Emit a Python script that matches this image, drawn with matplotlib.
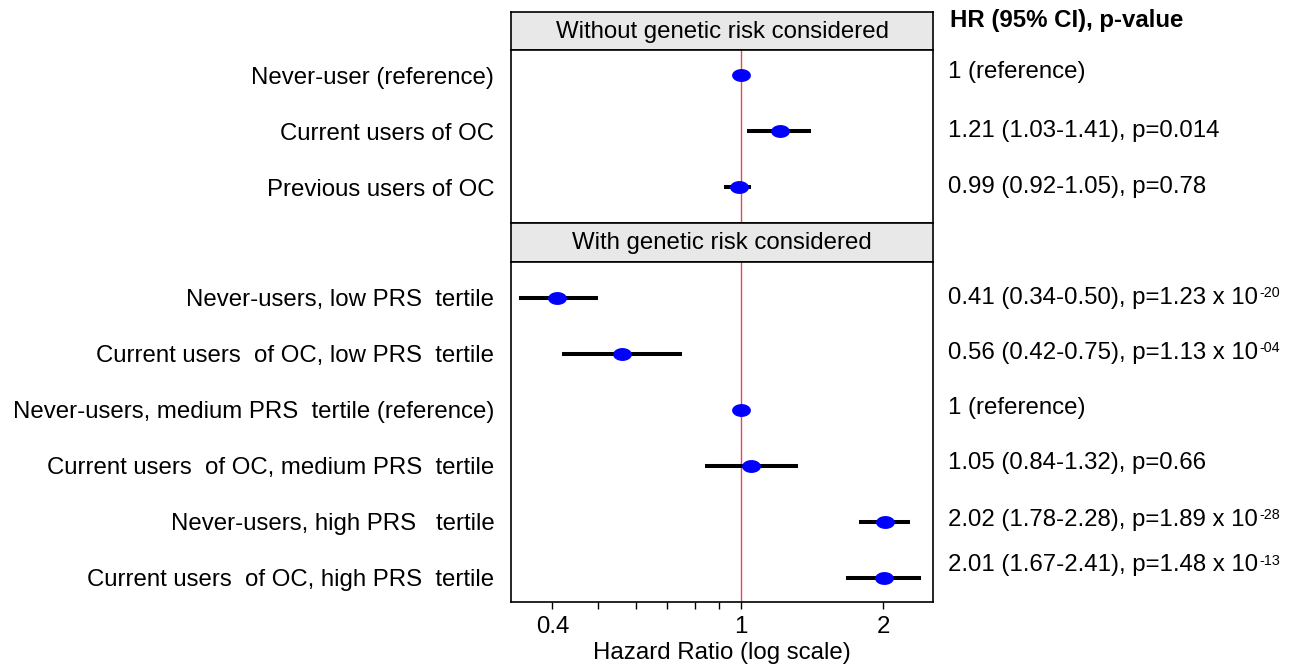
#!/usr/bin/env python3
# forest plot: OC use and hazard ratios, with/without genetic risk
import numpy as np
import matplotlib.pyplot as plt
from matplotlib.path import Path
from matplotlib.transforms import blended_transform_factory

plt.rcParams['font.family'] = ['Liberation Sans', 'DejaVu Sans']

########## DATOS ##########
titulo1 = "Without genetic risk considered"
grupos1 = ["Never-user (reference)", "Current users of OC", "Previous users of OC"]
hr1 = [1.0, 1.21, 0.99]
lo1 = [1.0, 1.03, 0.92]
hi1 = [1.0, 1.41, 1.05]
txt1 = ["1 (reference)", "1.21 (1.03-1.41), p=0.014", "0.99 (0.92-1.05), p=0.78"]
sup1 = ["", "", ""]

titulo2 = "With genetic risk considered"
grupos2 = ["Never-users, low PRS  tertile",
           "Current users  of OC, low PRS  tertile",
           "Never-users, medium PRS  tertile (reference)",
           "Current users  of OC, medium PRS  tertile",
           "Never-users, high PRS   tertile",
           "Current users  of OC, high PRS  tertile"]
hr2 = [0.41, 0.56, 1.0, 1.05, 2.02, 2.01]
lo2 = [0.34, 0.42, 1.0, 0.84, 1.78, 1.67]
hi2 = [0.50, 0.75, 1.0, 1.32, 2.28, 2.41]
txt2 = ["0.41 (0.34-0.50), p=1.23 x 10",
        "0.56 (0.42-0.75), p=1.13 x 10",
        "1 (reference)",
        "1.05 (0.84-1.32), p=0.66",
        "2.02 (1.78-2.28), p=1.89 x 10",
        "2.01 (1.67-2.41), p=1.48 x 10"]
sup2 = ["-20", "-04", "", "", "-28", "-13"]

xticks = [0.4, 0.5, 0.6, 0.7, 0.8, 0.9, 1, 2]
xticklabels = ["0.4", "", "", "", "", "", "1", "2"]

W, H = 1291, 666
fig = plt.figure(figsize=(W / 100, H / 100), dpi=100)

def caja(x0, y0, x1, y1):
    return [x0 / W, 1 - y1 / H, (x1 - x0) / W, (y1 - y0) / H]

# marcador eliptico (los puntos salen achatados en el original)
t = np.linspace(0, 2 * np.pi, 60)
elipse = Path(np.column_stack([np.cos(t), 0.66 * np.sin(t)]), closed=True)

FS = 17.3
X0, X1 = 511, 933

def panel(y0, y1, grupos, hr, lo, hi, textos, sups, desde_arriba, desde_abajo, ajuste_txt):
    ax = fig.add_axes(caja(X0, y0, X1, y1))
    n = len(grupos)
    y = np.arange(n)
    ax.set_xscale('log')
    ax.set_xlim(0.327, 2.55)
    ax.set_ylim(n - 1 + desde_abajo, -desde_arriba)
    ax.axvline(1, color='#ec4455', lw=1.0, zorder=1)
    ax.hlines(y, lo, hi, color='black', lw=2.9, capstyle='butt', zorder=2)
    ax.plot(hr, y, linestyle='none', marker=elipse, ms=12.5, color='blue', zorder=3)
    ax.set_yticks(y)
    ax.set_yticklabels(grupos, fontsize=FS)
    ax.tick_params(axis='y', length=0, pad=12)
    for s in ax.spines.values():
        s.set_linewidth(1.2)
    tr = blended_transform_factory(fig.transFigure, ax.transData)
    for i, tx in enumerate(textos):
        t_ = ax.text(948 / W, i - ajuste_txt[i], tx, transform=tr, fontsize=FS,
                     va='center', ha='left', clip_on=False)
        if sups[i]:
            # exponente como texto pequeño pegado arriba
            ax.annotate(sups[i], xy=(1.0, 1.02), xycoords=t_, xytext=(1, 0),
                        textcoords='offset points', fontsize=FS * 0.6,
                        ha='left', va='top', annotation_clip=False)
    return ax

def tira(y0, y1, titulo):
    ax = fig.add_axes(caja(X0, y0, X1, y1))
    ax.set_facecolor('#e8e8e8')
    ax.set_xticks([])
    ax.set_yticks([])
    for s in ax.spines.values():
        s.set_linewidth(1.2)
    ax.text(0.5, 0.48, titulo, transform=ax.transAxes, ha='center', va='center', fontsize=FS)

tira(12, 50, titulo1)
ax1 = panel(50, 223, grupos1, hr1, lo1, hi1, txt1, sup1, 0.45, 0.64, [0.05, 0, 0])
ax1.set_xticks([])
ax1.minorticks_off()
ax1.tick_params(axis='x', which='both', length=0, labelbottom=False)

tira(223, 262, titulo2)
ax2 = panel(262, 602, grupos2, hr2, lo2, hi2, txt2, sup2, 0.64, 0.43,
            [0, 0.02, 0.04, 0.05, 0.04, 0.23])
ax2.minorticks_off()
ax2.set_xticks(xticks)
ax2.set_xticklabels(xticklabels, fontsize=FS)
ax2.tick_params(axis='x', length=5, width=1, pad=5)
ax2.set_xlabel("Hazard Ratio (log scale)", fontsize=FS, labelpad=3)

fig.text(950 / W, 1 - 20 / H, "HR (95% CI), p-value", fontsize=FS, fontweight='bold',
         ha='left', va='center')

fig.savefig('out.png', dpi=100)
